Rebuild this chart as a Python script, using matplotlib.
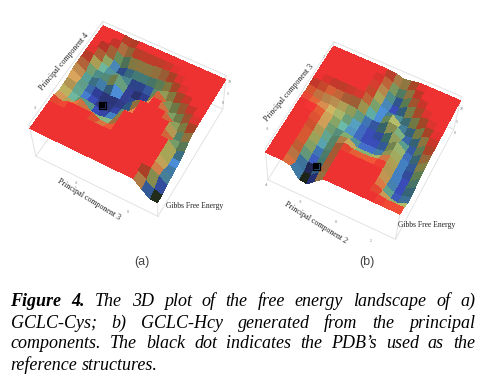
import numpy as np
import matplotlib
matplotlib.use("Agg")
import matplotlib.pyplot as plt
from matplotlib.colors import LinearSegmentedColormap, LightSource

W, H = 488, 378
SERIF = "Liberation Serif"

# depth below the red plateau; first row = far edge of the y axis
depth_a = [
 [0,0,0,0,.5,0,0,0,0,0,0,0,0,0,0,0,0],
 [0,0,0,0,2,0,0,0,0,0,0,0,0,0,0,0,0],
 [0,0,0,1,4,1.5,1,1,1,1,.3,0,0,0,0,0,0],
 [0,0,1.5,4,7,5,4,4,4,3,2.5,.5,0,0,0,0,0],
 [0,.3,4,5,7,7,6,6,6,6,5,3,.5,0,0,0,0],
 [0,2,5,5,4,1,7,8,7,7,0,5,3,1,0,0,0],
 [0,4,6,4,6,3,7,8,8,7,0,0,6,4,1,0,0],
 [.3,4,6,6,7,7,7,8,3,0,0,0,0,5,4,.5,0],
 [1.5,3,6,7,8,8,8,7,6,0,0,0,0,0,5,3,.3],
 [1.5,4,6,6,7,8,7,6,0,0,0,0,0,0,5,5,1.5],
 [2,4,5,0,6,7,6,5,0,0,0,0,0,0,0,6,4],
 [0,2,0,0,0,0,3,3,0,0,0,0,0,0,0,6,6],
 [0,0,0,0,0,0,0,0,0,0,0,0,0,0,0,6,6],
 [0,0,0,0,0,0,0,0,0,0,0,0,0,0,0,4,7],
 [0,0,0,0,0,0,0,0,0,0,0,0,0,0,0,3,8],
 [0,0,0,0,0,0,0,0,0,0,0,0,0,0,3,7,9],
 [0,0,0,0,0,0,0,0,0,0,0,0,0,0,5,10,10],
]
depth_b = [
 [0,0,0,0,0,0,0,0,.5,2,1,0,0,0,0,0,0],
 [0,0,0,0,0,0,0,0,2,4,3,.3,0,0,0,0,0],
 [0,0,0,0,0,0,0,.5,3,6,5,1.5,0,0,0,0,0],
 [0,0,0,0,0,0,0,1,4,7,7,3,1,0,0,0,0],
 [0,0,0,0,0,0,0,2,5,7,7,6,3,.5,0,0,0],
 [0,0,.5,1,1,.5,.5,3,6,6,2,6,6,3.5,.5,0,0],
 [.5,1,1.5,1.5,2,2.5,3,5,6,6,2,3,7,6,3,.3,0],
 [.5,1.5,2.5,2.5,3,3.5,4.5,6,7,7,6,2,5,7,6,1,0],
 [0,0,.3,2,3,4,5.5,6,7,7,7,5,1.5,6,7,2.5,0],
 [0,0,0,1.5,3,5,5,6,7,7,7,6,2,5,7,5,.3],
 [0,0,0,1.5,3,6,3,2,6,6,6,4,1,5,7,6,1],
 [0,0,0,2,4,6,3,0,2,2,2,1,0,5,7,7,2],
 [0,0,0,2,5,6,3,0,0,0,0,0,0,5,7,7,3],
 [0,0,0,2,6,7,3,0,0,0,0,0,0,4,7,7,5],
 [0,0,0,3,7,7,3,0,0,0,0,0,0,2,6,7,4],
 [0,0,0,4,9,9,4,0,0,0,0,0,0,0,1,1,1],
 [0,0,0,1,9,10,5,0,0,0,0,0,0,0,0,0,0],
]
reference_a = (5.5, 6.4)
reference_b = (5.6, 1.0)

depth_colors = ["#F83434", "#FA683A", "#EEA860", "#D8D470", "#9CD088", "#66BAB0",
                "#4E94E0", "#3C50C0", "#343C80", "#2C3A24", "#0C0C0C"]

ticks_a = ["-2", "-2", "0", "10", "5", "0"]
ticks_b = ["-4", "-3", "0", "2", "-2", "2", "10", "5", "0"]

cap_lines = [
    "Figure 4. The 3D plot of the free energy landscape of a)",
    "GCLC-Cys; b) GCLC-Hcy generated from the principal",
    "components. The black dot indicates the PDB’s used as the",
    "reference structures.",
]

cmap = LinearSegmentedColormap.from_list("landscape", depth_colors)
fig = plt.figure(figsize=(W / 100, H / 100), dpi=100, facecolor="white")


def px_text(x, y, s, **kw):
    kw.setdefault("family", SERIF)
    kw.setdefault("ha", "center")
    kw.setdefault("va", "center")
    return fig.text(x / W, 1 - y / H, s, **kw)


def panel(depth, ref, cx, cy, elev, azim, roll, zoom):
    side = 244
    ax = fig.add_axes([(cx - side * .5135) / W, 1 - (cy + side * .4865) / H, side / W, side / H],
                      projection="3d", computed_zorder=False)
    ax.set_proj_type("persp", focal_length=0.75)
    ax.view_init(elev=elev, azim=azim, roll=roll)
    ax.set_box_aspect((1, 1, .44), zoom=zoom)
    ax.patch.set_alpha(0)
    ax.set_axis_off()
    d = np.array(depth, float)[::-1]
    n = d.shape[0]
    X, Y = np.meshgrid(np.arange(n), np.arange(n))
    top, bot = 3, -22
    ax.set_xlim(0, n - 1, view_margin=0)
    ax.set_ylim(0, n - 1, view_margin=0)
    ax.set_zlim(bot, top, view_margin=0)
    m = n - 1
    box = "#dedede"
    for (x0, y0, z0, x1, y1, z1) in [
        (0, 0, bot, m, 0, bot), (m, 0, bot, m, m, bot), (0, 0, bot, 0, m, bot), (0, m, bot, m, m, bot),
        (0, 0, bot, 0, 0, top), (m, 0, bot, m, 0, top), (m, m, bot, m, m, top), (0, m, bot, 0, m, top),
        (0, 0, top, 0, m, top), (0, m, top, m, m, top)]:
        ax.plot([x0, x1], [y0, y1], [z0, z1], color=box, lw=.6, zorder=0)
    cell = (d[:-1, :-1] + d[1:, :-1] + d[:-1, 1:] + d[1:, 1:]) / 4
    face = cmap(cell / 10)
    ax.plot_surface(X, Y, -d, rstride=1, cstride=1, facecolors=face, shade=True,
                    lightsource=LightSource(azdeg=30, altdeg=62), linewidth=0,
                    antialiased=False, zorder=1)
    ax.scatter([ref[0]], [ref[1]], [0], marker="s", s=26, facecolors="none", edgecolors="k",
               linewidths=.9, depthshade=False, zorder=5)
    ax.scatter([ref[0]], [ref[1]], [0], marker="s", s=5, color="k", depthshade=False, zorder=6)
    return ax


panel(depth_a, reference_a, 129.6, 123, 58, -58, 3, .83)
panel(depth_b, reference_b, 364, 145, 59, -68, -5, .84)

lab = dict(fontsize=5.8, color="#222222")
px_text(64, 62, "Principal component 4", rotation=50, rotation_mode="anchor", **lab)
px_text(89, 199, "Principal component 3", rotation=-31.5, rotation_mode="anchor", **lab)
px_text(166, 206, "Gibbs Free Energy", ha="left", fontsize=5.5, color="#222222")
px_text(289, 93, "Principal component 3", rotation=50, rotation_mode="anchor", **lab)
px_text(316, 223, "Principal component 2", rotation=-32, rotation_mode="anchor", **lab)
px_text(398, 225, "Gibbs Free Energy", ha="left", fontsize=5.5, color="#222222")
px_text(142, 262, "(a)", family="Liberation Sans", fontsize=9, color="#444444")
px_text(367, 262, "(b)", family="Liberation Sans", fontsize=9, color="#444444")

tick = dict(fontsize=3, color="#777777")
for s, (x, y) in zip(ticks_a, [(36, 108), (77, 183), (128, 212), (230, 82), (228, 94), (223, 103)]):
    px_text(x, y, s, **tick)
for s, (x, y) in zip(ticks_b, [(267, 185), (301, 202), (336, 222), (371, 241), (268, 129), (324, 57),
                               (462, 109), (457, 122), (455, 133)]):
    px_text(x, y, s, **tick)

# caption, justified between two margins
renderer = fig.canvas.get_renderer()
cap_y = [301, 323, 344, 366]
left, right = 10.5, 475
for li, (line, y) in enumerate(zip(cap_lines, cap_y)):
    words = line.split(" ")
    arts = []
    for wi, w in enumerate(words):
        bold = li == 0 and wi < 2
        arts.append(px_text(0, y, w, ha="left", va="baseline", fontsize=13, style="italic",
                            weight="bold" if bold else "normal", color="black"))
    widths = [a.get_window_extent(renderer).width for a in arts]
    gap = (right - left - sum(widths)) / (len(words) - 1) if li < 3 else 4.3
    x = left
    for a, w_ in zip(arts, widths):
        a.set_position((x / W, 1 - (y + 4.5) / H))
        x += w_ + gap

fig.savefig("out.png", dpi=100, facecolor="white")
